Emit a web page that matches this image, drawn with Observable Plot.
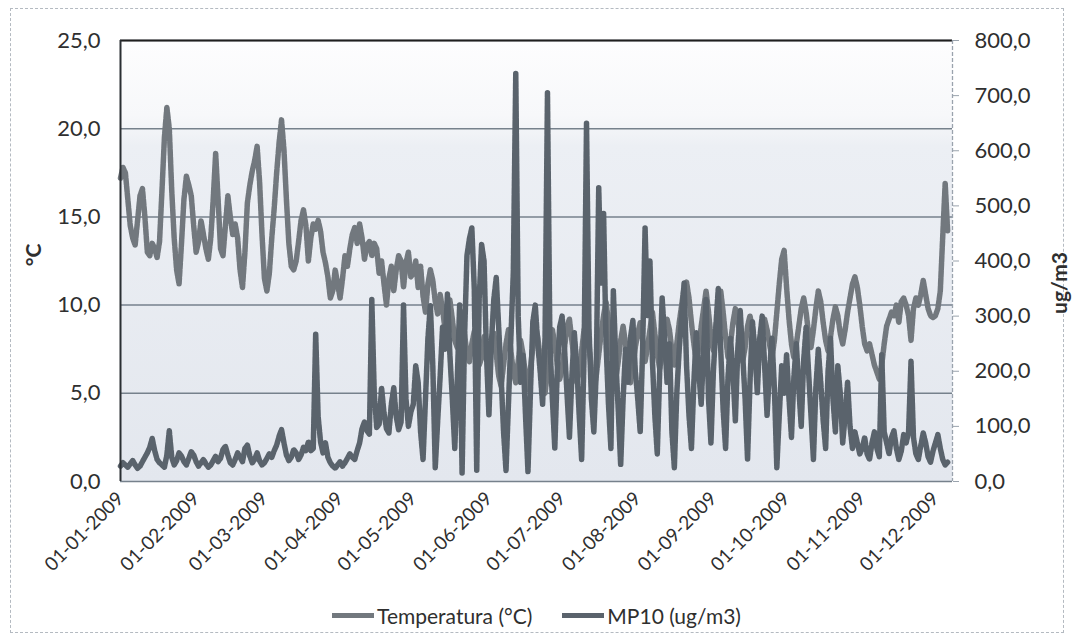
<!DOCTYPE html>
<html>
<head>
<meta charset="utf-8">
<script src="https://cdn.jsdelivr.net/npm/d3@7"></script>
<script src="https://cdn.jsdelivr.net/npm/@observablehq/plot@0.6"></script>
<style>
  html, body { margin: 0; padding: 0; background: #ffffff; }
  #chart { position: relative; width: 1073px; height: 643px; font-family: Lato, "Open Sans", sans-serif; color: #2f2f2f; overflow: hidden; }
  #marco { position: absolute; left: 10px; top: 8px; width: 1054px; height: 625px; border: 1px dashed #b4bac1; box-sizing: border-box; pointer-events: none; }
  #chart svg { position: absolute; left: 0; top: 0; }
  .titulo-eje { position: absolute; font-weight: bold; font-size: 21px; color: #2f2f2f; transform: translate(-50%, -50%) rotate(-90deg); white-space: nowrap; }
  #leyenda { position: absolute; top: 603px; left: 0; width: 1073px; display: flex; justify-content: center; align-items: center; gap: 30px; font-size: 21px; color: #2f2f2f; }
  #leyenda .item { display: flex; align-items: center; }
  #leyenda .swatch { display: inline-block; width: 42px; height: 5px; margin-right: 3px; }
</style>
</head>
<body>
<div id="chart">
  <div id="marco"></div>
</div>
<script>
// Primer día de la serie diaria y fin del eje X
const inicio = "2009-01-01";
const finEje = "2009-12-08";

// Etiquetas mensuales del eje X
const etiquetasMes = ["01-01-2009", "01-02-2009", "01-03-2009", "01-04-2009", "01-05-2009", "01-06-2009",
  "01-07-2009", "01-08-2009", "01-09-2009", "01-10-2009", "01-11-2009", "01-12-2009"];

// Ticks de los ejes (°C a la izquierda, ug/m3 a la derecha)
const ticksTemp = [0, 5, 10, 15, 20, 25];
const ticksMP10 = [0, 100, 200, 300, 400, 500, 600, 700, 800];

// Temperatura media diaria (°C), 01-01-2009 a 06-12-2009
const temperatura = [
  // enero
  17.2, 17.8, 17.5, 16.0, 14.5, 13.8, 13.4, 14.8, 16.2, 16.6, 15.0, 13.0, 12.8, 13.5, 13.2, 12.7,
  13.6, 16.5, 19.5, 21.2, 20.0, 16.5, 13.8, 12.0, 11.2, 13.5, 16.0, 17.3, 16.8, 16.2, 14.5,
  // febrero
  13.0, 13.6, 14.8, 14.0, 13.2, 12.6, 13.8, 16.0, 18.6, 16.0, 13.2, 12.8, 14.5, 16.2, 15.0, 14.0,
  14.6, 13.8, 12.0, 11.0, 13.0, 15.8, 16.8, 17.6, 18.2, 19.0, 17.0, 14.0,
  // marzo
  11.5, 10.8, 11.8, 13.8, 15.5, 17.5, 19.2, 20.5, 18.8, 16.0, 13.5, 12.2, 12.0, 12.5, 13.6, 14.8,
  15.4, 14.5, 12.5, 13.8, 14.6, 14.3, 14.8, 14.2, 13.0, 12.4, 11.6, 10.4, 10.8, 12.0, 11.2,
  // abril
  10.4, 11.5, 12.8, 12.2, 13.2, 14.0, 14.4, 13.5, 14.6, 13.8, 12.6, 13.4, 13.6, 12.8, 13.5, 13.2,
  11.8, 12.5, 11.2, 10.0, 11.5, 12.2, 10.8, 12.0, 12.8, 12.5, 11.0, 12.4, 13.0, 11.6,
  // mayo
  11.8, 12.5, 11.0, 12.2, 10.5, 9.6, 11.2, 12.0, 11.4, 10.2, 9.5, 10.6, 9.8, 8.6, 9.4, 10.3,
  9.2, 8.0, 7.6, 8.8, 9.6, 8.4, 7.2, 6.8, 7.8, 8.5, 7.4, 6.6, 7.0, 8.2, 7.5,
  // junio
  6.8, 7.6, 8.4, 7.2, 6.0, 5.4, 6.6, 7.8, 8.6, 7.4, 6.2, 5.6, 6.8, 8.0, 7.2, 6.0,
  5.2, 6.4, 7.6, 8.8, 8.2, 7.0, 5.8, 5.0, 6.2, 7.4, 8.6, 7.8, 6.6, 5.8,
  // julio
  6.4, 7.6, 8.8, 9.2, 8.0, 6.8, 5.6, 6.2, 7.4, 8.6, 9.0, 7.8, 6.4, 5.2, 6.0, 7.2,
  8.4, 9.4, 10.2, 9.0, 7.6, 6.4, 5.8, 6.8, 8.0, 8.8, 7.8, 6.6, 5.6, 6.4, 7.6,
  // agosto
  8.4, 9.0, 8.0, 6.8, 7.6, 8.6, 9.6, 8.4, 7.2, 6.4, 7.2, 8.2, 9.2, 8.6, 7.4, 6.6,
  7.8, 9.0, 10.0, 11.0, 11.3, 10.4, 9.0, 7.8, 6.8, 7.6, 8.8, 9.8, 10.8, 9.6, 8.2,
  // septiembre
  7.4, 8.6, 10.0, 10.8, 9.6, 8.2, 7.0, 7.8, 9.0, 9.8, 9.2, 8.0, 6.8, 7.6, 8.8, 9.4,
  8.6, 7.4, 6.6, 7.4, 8.4, 9.2, 8.6, 7.8, 7.0, 8.0, 9.6, 11.2, 12.6, 13.1,
  // octubre
  11.0, 9.2, 7.8, 7.0, 7.8, 8.8, 9.8, 10.4, 9.6, 8.4, 7.6, 8.6, 9.8, 10.8, 10.2, 9.0,
  8.0, 7.4, 8.2, 9.2, 9.9, 9.4, 8.4, 7.8, 8.6, 9.6, 10.4, 11.2, 11.6, 11.0, 10.0,
  // noviembre
  8.8, 7.8, 7.4, 7.8, 7.2, 6.6, 6.2, 5.8, 6.6, 7.8, 8.8, 9.2, 9.6, 9.4, 10.0, 9.0,
  10.2, 10.4, 10.0, 9.4, 8.0, 9.8, 10.4, 10.0, 10.6, 11.4, 10.6, 9.8, 9.4, 9.3,
  // diciembre
  9.4, 9.8, 10.8, 13.9, 16.9, 14.2
];

// MP10 diario (ug/m3), mismas fechas
const mp10 = [
  // enero
  28, 34, 30, 26, 32, 38, 30, 24, 28, 36, 44, 52, 62, 78, 56, 40,
  34, 30, 26, 48, 92, 44, 30, 38, 52, 46, 36, 30, 42, 54, 48,
  // febrero
  36, 28, 34, 40, 32, 26, 30, 38, 46, 36, 42, 58, 64, 48, 34, 30,
  40, 52, 44, 36, 60, 66, 46, 34, 40, 52, 38, 30,
  // marzo
  34, 42, 50, 44, 56, 66, 82, 94, 70, 48, 38, 44, 58, 52, 40, 48,
  62, 56, 72, 56, 60, 268, 118, 72, 52, 70, 44, 34, 28, 24, 30,
  // abril
  36, 28, 34, 42, 50, 44, 40, 56, 70, 96, 108, 92, 86, 330, 160, 98,
  104, 170, 124, 96, 88, 140, 170, 118, 94, 108, 320, 150, 100, 126,
  // mayo
  140, 210, 180, 90, 40, 150, 260, 320, 210, 25, 110, 190, 280, 240, 340, 230,
  150, 60, 180, 320, 15, 260, 410, 440, 460, 350, 20, 330, 430, 400, 230,
  // junio
  120, 250, 330, 370, 280, 190, 90, 20, 140, 260, 380, 740, 300, 180, 230, 120,
  18, 160, 290, 320, 250, 200, 140, 260, 705, 250, 150, 60, 200, 280,
  // julio
  300, 240, 160, 80, 190, 270, 210, 120, 40, 230, 650, 280, 150, 90, 200, 533,
  360, 486, 250, 140, 60, 346, 220, 130, 30, 150, 240, 180, 260, 292, 200,
  // agosto
  150, 90, 240, 460, 300, 400, 220, 120, 50, 200, 333, 260, 180, 250, 90, 25,
  160, 240, 300, 360, 210, 120, 60, 180, 270, 200, 140, 240, 330, 150, 70,
  // septiembre
  200, 280, 350, 240, 130, 60, 190, 260, 200, 110, 240, 310, 230, 150, 40, 180,
  290, 240, 160, 260, 300, 210, 120, 200, 260, 170, 25, 120, 210, 160,
  // octubre
  230, 150, 80, 190, 250, 170, 100, 220, 280, 200, 120, 40, 170, 240, 180, 110,
  60, 200, 260, 150, 90, 210, 160, 70, 120, 180, 100, 60, 90, 70, 50,
  // noviembre
  60, 80, 50, 40, 70, 90, 60, 45, 230, 90, 70, 50, 80, 92, 60, 40,
  55, 85, 70, 90, 218, 80, 50, 40, 65, 88, 70, 45, 35, 55,
  // diciembre
  70, 85, 60, 40, 30, 35
];

// Series
const series = [
  {nombre: "Temperatura (°C)", color: "#72787e"},
  {nombre: "MP10 (ug/m3)", color: "#5a636c"}
];

const parseDia = d3.utcParse("%Y-%m-%d");
const parseMes = d3.utcParse("%d-%m-%Y");
const fmtMes = d3.utcFormat("%d-%m-%Y");
const fmtNum = v => v.toFixed(1).replace(".", ",");

const dia0 = parseDia(inicio);
const filas = temperatura.map((t, i) => ({fecha: d3.utcDay.offset(dia0, i), temp: t, mp10: mp10[i]}));
const fechasMes = etiquetasMes.map(parseMes);

// El eje secundario (0–800 ug/m3) comparte la altura del primario (0–25 °C)
const factor = ticksMP10[ticksMP10.length - 1] / ticksTemp[ticksTemp.length - 1];

const plot = Plot.plot({
  width: 1073,
  height: 600,
  marginLeft: 120,
  marginRight: 121,
  marginTop: 40,
  marginBottom: 119,
  style: {fontFamily: "Lato, 'Open Sans', sans-serif", fontSize: "22px", color: "#2f2f2f", background: "transparent"},
  x: {type: "utc", domain: [dia0, parseDia(finEje)]},
  y: {domain: [0, 25]},
  marks: [
    Plot.frame({fill: "url(#neblina)", stroke: null}),
    Plot.gridY(ticksTemp, {stroke: "#76818c", strokeOpacity: 1, strokeWidth: 1.5}),
    Plot.lineY(filas, {x: "fecha", y: "temp", stroke: series[0].color, strokeWidth: 5.5, strokeDasharray: "6 1.5"}),
    Plot.lineY(filas, {x: "fecha", y: d => d.mp10 / factor, stroke: series[1].color, strokeWidth: 5.5, strokeDasharray: "6 1.5"}),
    Plot.ruleY([ticksTemp[ticksTemp.length - 1]], {stroke: "#1f1f1f", strokeWidth: 2}),
    Plot.ruleX([dia0], {stroke: "#2a2f33", strokeWidth: 2}),
    Plot.ruleX([parseDia(finEje)], {stroke: "#9aa3ad", strokeWidth: 1.3, strokeDasharray: "4 2"}),
    Plot.axisY(ticksTemp, {anchor: "left", tickSize: 0, tickPadding: 20, tickFormat: fmtNum, label: null}),
    Plot.axisY(ticksMP10.map(v => v / factor), {
      anchor: "right", tickSize: 6, tickPadding: 16, stroke: "#9aa3ad",
      tickFormat: v => fmtNum(Math.round(v * factor)), label: null
    }),
    Plot.axisX(fechasMes, {tickSize: 0, tickPadding: 14, tickRotate: -45, tickFormat: fmtMes, label: null, fontSize: 19})
  ]
});

plot.insertAdjacentHTML("afterbegin",
  `<defs><linearGradient id="neblina" x1="0" y1="0" x2="0" y2="1">
     <stop offset="0" stop-color="#fdfdfe"/>
     <stop offset="0.17" stop-color="#f7f8fa"/>
     <stop offset="0.24" stop-color="#eceff4"/>
     <stop offset="1" stop-color="#e3e7ee"/>
   </linearGradient></defs>`);

const chart = document.getElementById("chart");
chart.appendChild(plot);

// Títulos de los ejes
const tIzq = document.createElement("div");
tIzq.className = "titulo-eje";
tIzq.textContent = "°C";
tIzq.style.left = "32px";
tIzq.style.top = "255px";
chart.appendChild(tIzq);

const tDer = document.createElement("div");
tDer.className = "titulo-eje";
tDer.textContent = "ug/m3";
tDer.style.left = "1058px";
tDer.style.top = "283px";
chart.appendChild(tDer);

// Leyenda
const leyenda = document.createElement("div");
leyenda.id = "leyenda";
for (const s of series) {
  const item = document.createElement("div");
  item.className = "item";
  const sw = document.createElement("span");
  sw.className = "swatch";
  sw.style.background = s.color;
  const tx = document.createElement("span");
  tx.textContent = s.nombre;
  item.appendChild(sw);
  item.appendChild(tx);
  leyenda.appendChild(item);
}
chart.appendChild(leyenda);
</script>
</body>
</html>
